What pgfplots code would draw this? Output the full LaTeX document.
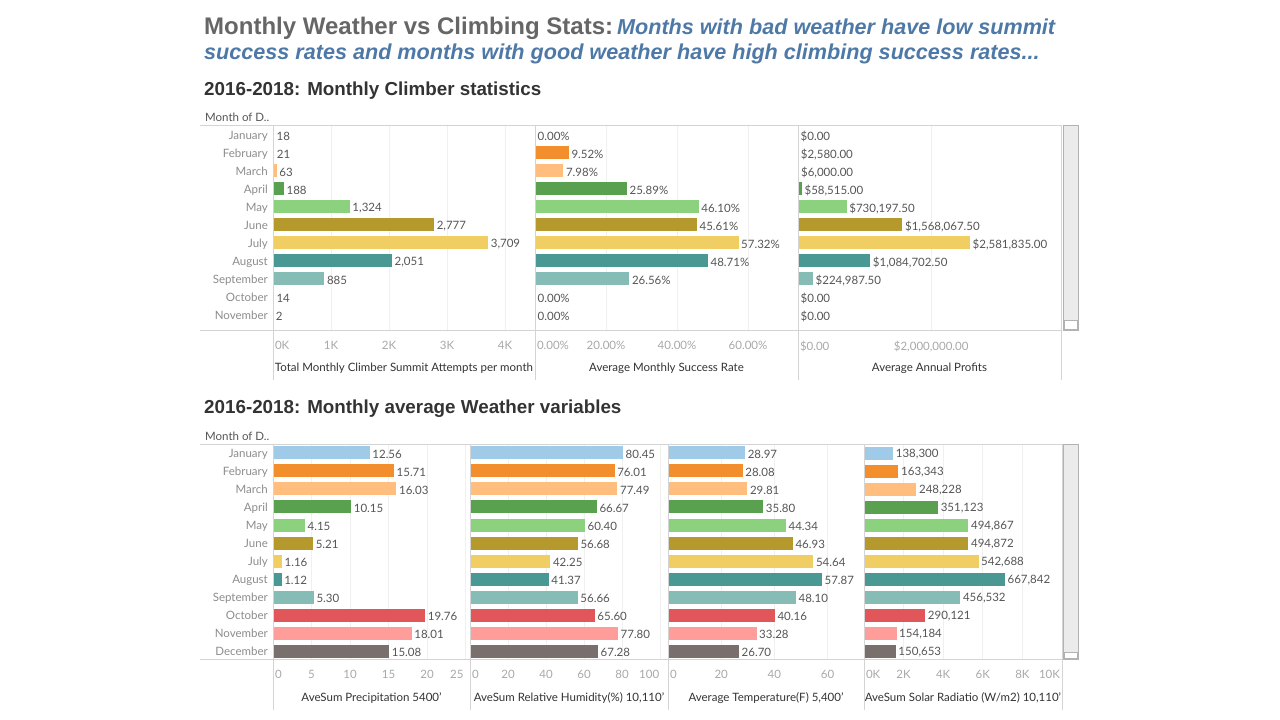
\documentclass[border=0pt]{standalone}
\usepackage{fontspec}
\setmainfont{Lato}
\newfontfamily\hfont{Liberation Sans}
\usepackage{pgfplots}
\usepackage{pgfplotstable}
\pgfplotsset{compat=1.18}

% Tableau 20 month colours
\definecolor{m0}{HTML}{A0CBE8}
\definecolor{m1}{HTML}{F28E2B}
\definecolor{m2}{HTML}{FFBE7D}
\definecolor{m3}{HTML}{59A14F}
\definecolor{m4}{HTML}{8CD17D}
\definecolor{m5}{HTML}{B6992D}
\definecolor{m6}{HTML}{F1CE63}
\definecolor{m7}{HTML}{499894}
\definecolor{m8}{HTML}{86BCB6}
\definecolor{m9}{HTML}{E15759}
\definecolor{m10}{HTML}{FF9D9A}
\definecolor{m11}{HTML}{79706E}
\definecolor{ttl}{HTML}{666666}
\definecolor{tblue}{HTML}{4E79A7}
\definecolor{hdr}{HTML}{333333}
\definecolor{monc}{HTML}{8C8C8C}
\definecolor{valc}{HTML}{555555}
\definecolor{tickc}{HTML}{A8A8A8}
\definecolor{axc}{HTML}{333333}
\definecolor{sepc}{HTML}{D4D4D4}
\definecolor{gridc}{HTML}{F0F0F0}

\newcommand\lbl{\fontsize{11.5}{13}\selectfont}

\pgfplotstableread{
i v lab
0 18 18
1 21 21
2 63 63
3 188 188
4 1324 1,324
5 2777 2,777
6 3709 3,709
7 2051 2,051
8 885 885
9 14 14
10 2 2
}\attempts

\pgfplotstableread{
i v lab
0 0 0.00
1 9.52 9.52
2 7.98 7.98
3 25.89 25.89
4 46.10 46.10
5 45.61 45.61
6 57.32 57.32
7 48.71 48.71
8 26.56 26.56
9 0 0.00
10 0 0.00
}\success

\pgfplotstableread{
i v lab
0 0 0.00
1 2580 2,580.00
2 6000 6,000.00
3 58515 58,515.00
4 730197.5 730,197.50
5 1568067.5 1,568,067.50
6 2581835 2,581,835.00
7 1084702.5 1,084,702.50
8 224987.5 224,987.50
9 0 0.00
10 0 0.00
}\profits

\pgfplotstableread{
i v lab
0 12.56 12.56
1 15.71 15.71
2 16.03 16.03
3 10.15 10.15
4 4.15 4.15
5 5.21 5.21
6 1.16 1.16
7 1.12 1.12
8 5.30 5.30
9 19.76 19.76
10 18.01 18.01
11 15.08 15.08
}\precip

\pgfplotstableread{
i v lab
0 80.45 80.45
1 76.01 76.01
2 77.49 77.49
3 66.67 66.67
4 60.40 60.40
5 56.68 56.68
6 42.25 42.25
7 41.37 41.37
8 56.66 56.66
9 65.60 65.60
10 77.80 77.80
11 67.28 67.28
}\humid

\pgfplotstableread{
i v lab
0 28.97 28.97
1 28.08 28.08
2 29.81 29.81
3 35.80 35.80
4 44.34 44.34
5 46.93 46.93
6 54.64 54.64
7 57.87 57.87
8 48.10 48.10
9 40.16 40.16
10 33.28 33.28
11 26.70 26.70
}\temp

\pgfplotstableread{
i v lab
0 138300 138,300
1 163343 163,343
2 248228 248,228
3 351123 351,123
4 494867 494,867
5 494872 494,872
6 542688 542,688
7 667842 667,842
8 456532 456,532
9 290121 290,121
10 154184 154,184
11 150653 150,653
}\solar

% one bar plot per month so every month gets its own colour
\newcommand\bars[2]{%
  \pgfplotsinvokeforeach{0,...,#2}{%
    \addplot[fill=m##1, draw=none, bar width=13pt, bar shift=0pt]
      table[x=v, y=i, meta=lab, restrict y to domain=##1:##1] {#1};
  }%
}

\pgfplotsset{
  col/.style={
    scale only axis, xbar, y dir=reverse, xmin=0, scaled x ticks=false,
    axis line style={draw=none}, major tick length=0pt, tick style={draw=none},
    xmajorgrids, grid style={draw=gridc, line width=0.8pt},
    ytick={0,...,11}, yticklabels={},
    xticklabel style={font=\lbl, text=tickc, inner sep=0pt, anchor=north, yshift=-11pt},
    yticklabel style={font=\lbl, text=monc, inner sep=0pt, anchor=east, xshift=-5pt,
      yshift=-1.5pt, text height=8pt, text depth=2pt},
    point meta=explicit symbolic,
    nodes near coords={\pgfplotspointmeta},
    every node near coord/.append style={font=\lbl, text=valc, anchor=west,
      inner sep=2.5pt, yshift=-1.5pt},
    clip=false,
    every axis x label/.style={at={(axis description cs:0.5,0)}, anchor=base,
      yshift=-42pt, font=\lbl, text=axc},
  },
  top/.style={col, height=205pt, ymin=-0.5556, ymax=10.8333},
  bot/.style={col, height=215pt, ymin=-0.5, ymax=11.4444},
}

\begin{document}
\begin{tikzpicture}
\path[use as bounding box] (0pt,0pt) rectangle (1280pt,720pt);

% titles
\node[anchor=base west, inner sep=0pt] at (204pt,685pt) {\hfont\bfseries
  {\fontsize{24}{28}\selectfont\color{ttl}Monthly Weather vs Climbing Stats:}\kern4pt
  {\fontsize{21.6}{24}\selectfont\itshape\color{tblue}Months with bad weather have low summit}};
\node[anchor=base west, inner sep=0pt] at (204pt,660pt) {\hfont\bfseries
  \fontsize{21.6}{24}\selectfont\itshape\color{tblue}success rates and months with good weather have high climbing success rates...};
\node[anchor=base west, inner sep=0pt] at (204pt,624pt)
  {\hfont\bfseries\fontsize{18.8}{22}\selectfont\color{hdr}2016-2018: Monthly Climber statistics};
\node[anchor=base west, inner sep=0pt] at (204pt,306pt)
  {\hfont\bfseries\fontsize{18.8}{22}\selectfont\color{hdr}2016-2018: Monthly average Weather variables};
\node[anchor=base west, inner sep=0pt, text=valc] at (205pt,598pt) {\lbl Month of D..};
\node[anchor=base west, inner sep=0pt, text=valc] at (205pt,279pt) {\lbl Month of D..};

% ---------- top panel ----------
\begin{axis}[top, at={(273pt,390pt)}, anchor=south west, width=262pt, xmax=4517,
  xtick={0,1000,2000,3000,4000},
  xticklabels={\makebox[0pt][l]{\kern2pt 0K},1K,2K,3K,4K},
  yticklabels={January,February,March,April,May,June,July,August,September,October,November},
  xlabel={Total Monthly Climber Summit Attempts per month}]
\bars{\attempts}{10}
\end{axis}
\begin{axis}[top, at={(535pt,390pt)}, anchor=south west, width=263pt, xmax=74.08,
  xtick={0,20,40,60},
  xticklabels={\makebox[0pt][l]{\kern2pt 0.00\%},20.00\%,40.00\%,60.00\%},
  nodes near coords={\pgfplotspointmeta\%},
  xlabel={Average Monthly Success Rate}]
\bars{\success}{10}
\end{axis}
\begin{axis}[top, at={(798pt,390pt)}, anchor=south west, width=263pt, xmax=3948900,
  xtick={0,2000000},
  xticklabels={\makebox[0pt][l]{\kern2pt \$0.00},{\$2,000,000.00}},
  nodes near coords={\$\pgfplotspointmeta},
  xlabel={Average Annual Profits}]
\bars{\profits}{10}
\end{axis}

% ---------- bottom panel ----------
\begin{axis}[bot, at={(273pt,61pt)}, anchor=south west, width=197pt, xmax=25.58,
  xtick={0,5,10,15,20,25},
  xticklabels={\makebox[0pt][l]{\kern2pt 0},5,10,15,20,\makebox[0pt][r]{25\kern2pt}},
  yticklabels={January,February,March,April,May,June,July,August,September,October,November,December},
  xlabel={AveSum Precipitation 5400'}]
\bars{\precip}{11}
\end{axis}
\begin{axis}[bot, at={(470pt,61pt)}, anchor=south west, width=198pt, xmax=104.1,
  xtick={0,20,40,60,80,100},
  xticklabels={\makebox[0pt][l]{\kern2pt 0},20,40,60,80,\makebox[0pt][r]{100\kern1pt}},
  xlabel={AveSum Relative Humidity(\%) 10,110'}]
\bars{\humid}{11}
\end{axis}
\begin{axis}[bot, at={(668pt,61pt)}, anchor=south west, width=196pt, xmax=73.68,
  xtick={0,20,40,60},
  xticklabels={\makebox[0pt][l]{\kern2pt 0},20,40,60},
  xlabel={Average Temperature(F) 5,400'}]
\bars{\temp}{11}
\end{axis}
\begin{axis}[bot, at={(864pt,61pt)}, anchor=south west, width=198pt, xmax=938400,
  xtick={0,187680,375360,563040,750720,938400},
  xticklabels={\makebox[0pt][l]{\kern2pt 0K},2K,4K,6K,8K,\makebox[0pt][r]{10K\kern2pt}},
  xlabel={AveSum Solar Radiatio (W/m2) 10,110'}]
\bars{\solar}{11}
\end{axis}

% frame lines
\begin{scope}[draw=sepc, line width=0.8pt]
\draw (200pt,595pt) -- (1062pt,595pt);
\draw (200pt,390pt) -- (1062pt,390pt);
\foreach \x in {273,535,798,1061} \draw (\x pt,595pt) -- (\x pt,340pt);
\draw (200pt,276pt) -- (1062pt,276pt);
\draw (200pt,61pt) -- (1062pt,61pt);
\foreach \x in {273,470,668,864,1062} \draw (\x pt,276pt) -- (\x pt,10pt);
\end{scope}
% scroll bars
\draw[draw=black!30, fill=black!8, line width=0.8pt] (1063pt,390pt) rectangle (1078pt,595pt);
\draw[draw=black!30, fill=white, line width=0.8pt] (1064pt,391pt) rectangle (1077pt,400pt);
\draw[draw=black!30, fill=black!8, line width=0.8pt] (1063pt,61pt) rectangle (1078pt,276pt);
\draw[draw=black!30, fill=white, line width=0.8pt] (1064pt,62pt) rectangle (1077pt,68pt);
\end{tikzpicture}
\end{document}
